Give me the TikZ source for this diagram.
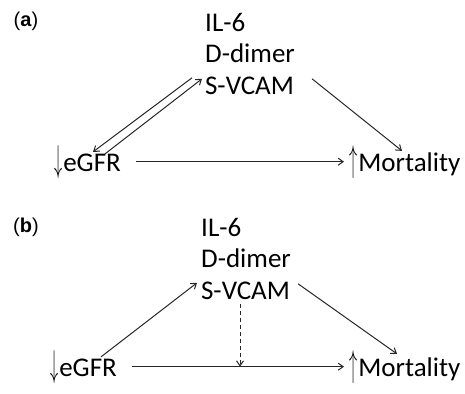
\documentclass[tikz,border=0pt]{standalone}
\usepackage{fontspec}
\setmainfont{Carlito}
\newfontfamily\panelfont{Liberation Sans}
\usepackage{graphicx}
\usetikzlibrary{arrows.meta}

\newcommand{\dnarr}{\scalebox{0.65}[1.5]{$\downarrow$}\kern1pt}
\newcommand{\uparr}{\scalebox{0.65}[1.5]{$\uparrow$}\kern1pt}

\begin{document}
\begin{tikzpicture}[x=1pt,y=-1pt,
		txt/.style={inner sep=0pt,font=\fontsize{27}{31.5}\selectfont},
		panel/.style={inner sep=0pt,font=\panelfont\fontsize{20}{22}\selectfont},
		link/.style={->,line width=1pt,draw=black!85},
		>={Straight Barb[length=5pt,width=7pt]}]
		\useasboundingbox (0,0) rectangle (465,393);
		% (a)
		\draw[color=black]
		node[panel] (labA) at (26,21) {(\textbf{a})}
		node[txt,align=left,anchor=north west] (medA) at (205,13) {IL-6\\D-dimer\\S-VCAM}
		node[txt,anchor=base west] (egfrA) at (54,171) {\dnarr eGFR}
		node[txt,anchor=base west] (mortA) at (349,171) {\uparr Mortality};
		\draw [link] ([shift={(-13,-17)}]medA.south west) -- ([shift={(39,7)}]egfrA.north west);
		\draw [link] ([shift={(51,9)}]egfrA.north west) -- ([shift={(-3,-16)}]medA.south west);
		\draw [link] ([shift={(17,-16)}]medA.south east) -- ([shift={(53,6)}]mortA.north west);
		\draw [link, shorten <=15pt, shorten >=5pt] (egfrA.east) -- (mortA.west);
		% (b)
		\draw[color=black]
		node[panel] (labB) at (26,227) {(\textbf{b})}
		node[txt,align=left,anchor=north west] (medB) at (201,218) {IL-6\\D-dimer\\S-VCAM}
		node[txt,anchor=base west] (egfrB) at (50,376) {\dnarr eGFR}
		node[txt,anchor=base west] (mortB) at (349,376) {\uparr Mortality};
		\coordinate (dropB) at ([shift={(39,4)}]medB.south west);
		\draw [link] ([shift={(51,7)}]egfrB.north west) -- ([shift={(-4,-17)}]medB.south west);
		\draw [link] ([shift={(7,-16)}]medB.south east) -- ([shift={(48,4)}]mortB.north west);
		\draw [link, shorten <=15pt, shorten >=5pt] (egfrB.east) -- (mortB.west);
		\draw [link, dash pattern=on 4pt off 3pt] (dropB) -- (dropB |- egfrB.east);
\end{tikzpicture}
\end{document}
